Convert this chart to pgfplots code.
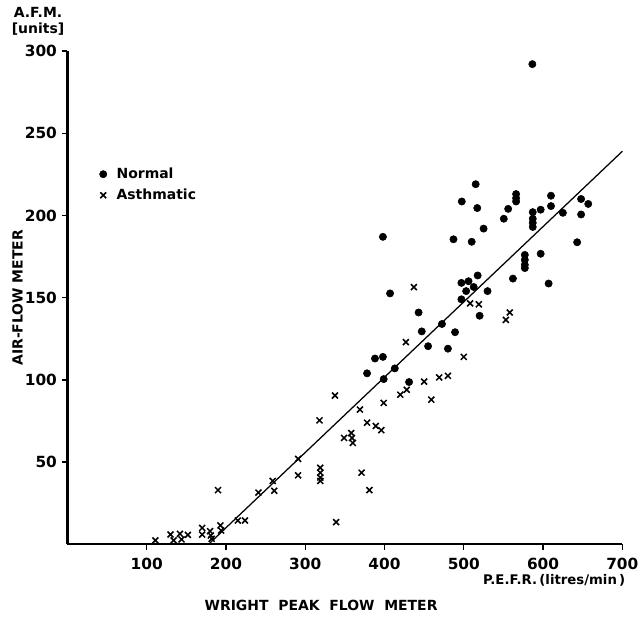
\documentclass[border=0pt]{standalone}
\usepackage{fontspec}
\setmainfont{DejaVu Sans}
\usepackage{pgfplots}
\usepackage{pgfplotstable}
\pgfplotsset{compat=1.18}

% Normal subjects (dots)
\pgfplotstableread{
x y
378 104
388 113
398 114
399 100.5
407 152.6
398 187
413 107
431 98.7
443 141
447 129.5
455 120.5
472.5 134
480 119
487 185.5
489 129
497 149
497 159
497.5 208.5
503 154
506 160
510 184
512.5 156.5
515 219
517 204.5
517.5 163.5
520 139
525 192
530 154
550.5 198
556 204
562 161.6
566 213
566 210.5
566 208.5
577 176
577 173
577 170
577 168
586.5 292
587 202
587 198
587 195.5
587 193
597 203.5
597 176.7
607 158.6
610 212
610 205.7
625 201.6
643 183.7
648 210
648 200.6
657 207
}\normaldata

% Asthmatic subjects (crosses)
\pgfplotstableread{
x y
111 2.4
130 6
134 2.4
142 6.4
144 3
152 5.8
170 10
170 6
180 8
181 5.4
182 3.4
193 11.5
194 8.4
190 33
215 14.5
224 14.5
241 31.5
259 38.6
261 32.6
291 52
291 42
318 75.4
319 46.6
319 43.6
319 40.6
319 38.6
337.5 90.5
339 13.5
349 64.7
358 67.7
359 64.7
360 61.7
369 82
371 43.6
378 74
381 33
389 72
396 69.4
399 86
420 91
427 123
428 94
437 156.4
450 99
459 88
469 101.5
480 102.5
500 114
508 146.5
519 146
553 136.5
558 141
}\asthdata

\begin{document}
\begin{tikzpicture}
\begin{axis}[
  scale only axis,
  width=13.975cm, height=12.425cm,
  xmin=0, xmax=700, ymin=0, ymax=300,
  axis x line=bottom, axis y line=left,
  x axis line style={-, line width=1.4pt},
  y axis line style={-, line width=2.3pt},
  xtick={100,200,...,700}, ytick={50,100,...,300},
  tick align=outside, major tick length=4pt,
  tick style={black, line width=1pt},
  /pgf/number format/assume math mode=true,
  tick label style={font=\bfseries\fontsize{11}{13}\selectfont},
  xticklabel style={yshift=-2pt},
  clip=false,
  legend style={draw=none, fill=none, at={(0.05,0.775)}, anchor=north west,
    font=\bfseries\fontsize{10}{12}\selectfont, row sep=2pt},
  legend cell align=left,
]
\addplot[only marks, mark=*, mark size=2.6pt, black] table[x=x,y=y]{\normaldata};
\addlegendentry{\hspace{5pt}Normal}
\addplot[only marks, mark=x, mark size=3pt, black, mark options={line width=1.1pt}] table[x=x,y=y]{\asthdata};
\addlegendentry{\hspace{5pt}Asthmatic}
% fitted line
\addplot[black, line width=0.9pt, forget plot] coordinates {(178,0) (700,239)};

\node[rotate=90, font=\bfseries\fontsize{10}{12}\selectfont] at (axis cs:-63,150) {AIR-FLOW METER};
\node[align=center, font=\bfseries\fontsize{10}{12}\selectfont, inner sep=0pt] at (axis cs:-37,318) {A.F.M.\\{}[units]};
\node[anchor=east, font=\bfseries\fontsize{9.5}{11}\selectfont, inner sep=0pt] at (axis cs:704,-21.7) {P.E.F.R.\,(litres/min\,)};
\node[font=\bfseries\fontsize{10}{12}\selectfont, inner sep=0pt] at (axis cs:320,-37.4) {WRIGHT\ \ PEAK\ \ FLOW\ \ METER};
\path (axis cs:-85,-49.5) rectangle (axis cs:720.5,331);
\end{axis}
\end{tikzpicture}
\end{document}
